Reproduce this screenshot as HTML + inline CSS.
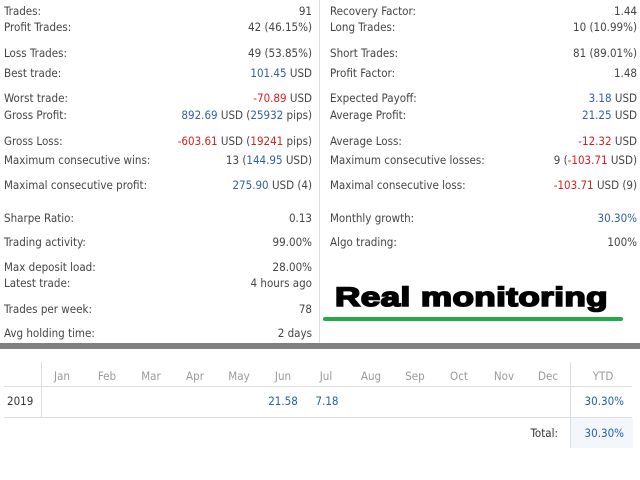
<!DOCTYPE html>
<html><head><meta charset="utf-8"><style>
body{margin:0;width:640px;height:480px;background:#fff;position:relative;overflow:hidden;font-family:"DejaVu Sans Condensed","Liberation Sans",sans-serif;font-size:11.5px;color:#444}
.l,.r{position:absolute;white-space:nowrap;line-height:14px}
.l{text-align:left}
.r{text-align:right}
.b{color:#2f5fa8}.d{color:#d42020}
.m{position:absolute;width:40px;text-align:center;color:#999;line-height:14px}
</style></head><body>
<div>
<span class="l" style="left:4px;top:4px">Trades:</span><span class="r" style="right:328px;top:4px">91</span>
<span class="l" style="left:4px;top:20px">Profit Trades:</span><span class="r" style="right:328px;top:20px">42 (46.15%)</span>
<span class="l" style="left:4px;top:46px">Loss Trades:</span><span class="r" style="right:328px;top:46px">49 (53.85%)</span>
<span class="l" style="left:4px;top:66px">Best trade:</span><span class="r" style="right:328px;top:66px"><span class="b">101.45</span> USD</span>
<span class="l" style="left:4px;top:91px">Worst trade:</span><span class="r" style="right:328px;top:91px"><span class="d">-70.89</span> USD</span>
<span class="l" style="left:4px;top:108px">Gross Profit:</span><span class="r" style="right:328px;top:108px"><span class="b">892.69</span> USD (<span class="b">25932</span> pips)</span>
<span class="l" style="left:4px;top:134px">Gross Loss:</span><span class="r" style="right:328px;top:134px"><span class="d">-603.61</span> USD (<span class="d">19241</span> pips)</span>
<span class="l" style="left:4px;top:153px">Maximum consecutive wins:</span><span class="r" style="right:328px;top:153px">13 (<span class="b">144.95</span> USD)</span>
<span class="l" style="left:4px;top:178px">Maximal consecutive profit:</span><span class="r" style="right:328px;top:178px"><span class="b">275.90</span> USD (4)</span>
<span class="l" style="left:4px;top:211px">Sharpe Ratio:</span><span class="r" style="right:328px;top:211px">0.13</span>
<span class="l" style="left:4px;top:235px">Trading activity:</span><span class="r" style="right:328px;top:235px">99.00%</span>
<span class="l" style="left:4px;top:260px">Max deposit load:</span><span class="r" style="right:328px;top:260px">28.00%</span>
<span class="l" style="left:4px;top:276px">Latest trade:</span><span class="r" style="right:328px;top:276px">4 hours ago</span>
<span class="l" style="left:4px;top:302px">Trades per week:</span><span class="r" style="right:328px;top:302px">78</span>
<span class="l" style="left:4px;top:326px">Avg holding time:</span><span class="r" style="right:328px;top:326px">2 days</span>
</div>
<div style="position:absolute;left:319px;top:0;width:1px;height:343px;background:#ddd"></div>
<div>
<span class="l" style="left:330px;top:4px">Recovery Factor:</span><span class="r" style="right:3px;top:4px">1.44</span>
<span class="l" style="left:330px;top:20px">Long Trades:</span><span class="r" style="right:3px;top:20px">10 (10.99%)</span>
<span class="l" style="left:330px;top:46px">Short Trades:</span><span class="r" style="right:3px;top:46px">81 (89.01%)</span>
<span class="l" style="left:330px;top:66px">Profit Factor:</span><span class="r" style="right:3px;top:66px">1.48</span>
<span class="l" style="left:330px;top:91px">Expected Payoff:</span><span class="r" style="right:3px;top:91px"><span class="b">3.18</span> USD</span>
<span class="l" style="left:330px;top:108px">Average Profit:</span><span class="r" style="right:3px;top:108px"><span class="b">21.25</span> USD</span>
<span class="l" style="left:330px;top:134px">Average Loss:</span><span class="r" style="right:3px;top:134px"><span class="d">-12.32</span> USD</span>
<span class="l" style="left:330px;top:153px">Maximum consecutive losses:</span><span class="r" style="right:3px;top:153px">9 (<span class="d">-103.71</span> USD)</span>
<span class="l" style="left:330px;top:178px">Maximal consecutive loss:</span><span class="r" style="right:3px;top:178px"><span class="d">-103.71</span> USD (9)</span>
<span class="l" style="left:330px;top:211px">Monthly growth:</span><span class="r" style="right:3px;top:211px"><span class="b">30.30%</span></span>
<span class="l" style="left:330px;top:235px">Algo trading:</span><span class="r" style="right:3px;top:235px">100%</span>
</div>
<div style="position:absolute;left:335px;top:281px;font-family:'Liberation Sans',sans-serif;font-weight:bold;font-size:27px;color:#000;letter-spacing:0.3px;-webkit-text-stroke:1.6px #000;line-height:32px;white-space:nowrap;transform:scaleX(1.3);transform-origin:0 0">Real monitoring</div>
<div style="position:absolute;left:323px;top:317px;width:300px;height:4px;border-radius:2px;background:#22ab48"></div>
<div style="position:absolute;left:0;top:343px;width:640px;height:6px;background:#808080"></div>
<div>
<div style="position:absolute;left:41px;top:362px;width:1px;height:55px;background:#ddd"></div>
<div style="position:absolute;left:570px;top:362px;width:1px;height:55px;background:#ddd"></div>
<div style="position:absolute;left:4px;top:386px;width:628px;height:1px;background:#ddd"></div>
<div style="position:absolute;left:4px;top:417px;width:628px;height:1px;background:#ddd"></div>
<div style="position:absolute;left:570px;top:418px;width:62px;height:30px;background:#f3f6fb;border-left:1px solid #ddd"></div>
<span class="m" style="left:42px;top:369px">Jan</span>
<span class="m" style="left:87px;top:369px">Feb</span>
<span class="m" style="left:131px;top:369px">Mar</span>
<span class="m" style="left:175px;top:369px">Apr</span>
<span class="m" style="left:219px;top:369px">May</span>
<span class="m" style="left:263px;top:369px">Jun</span>
<span class="m" style="left:306px;top:369px">Jul</span>
<span class="m" style="left:351px;top:369px">Aug</span>
<span class="m" style="left:395px;top:369px">Sep</span>
<span class="m" style="left:439px;top:369px">Oct</span>
<span class="m" style="left:484px;top:369px">Nov</span>
<span class="m" style="left:528px;top:369px">Dec</span>
<span class="m" style="left:583px;top:369px">YTD</span>
<span class="l" style="left:7px;top:394px;color:#333">2019</span>
<span class="m" style="left:263px;top:394px;color:#1f64a8">21.58</span>
<span class="m" style="left:307px;top:394px;color:#1f64a8">7.18</span>
<span class="r" style="right:16px;top:394px;color:#1f64a8">30.30%</span>
<span class="r" style="right:82px;top:426px;color:#333">Total:</span>
<span class="r" style="right:16px;top:426px;color:#1f64a8">30.30%</span>
</div>
</body></html>
